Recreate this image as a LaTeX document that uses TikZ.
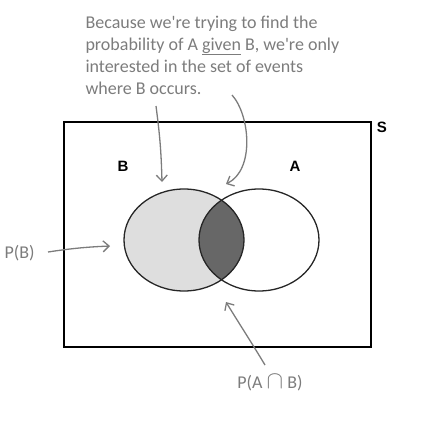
\documentclass[tikz,border=0pt]{standalone}
\usepackage{fontspec}
\setsansfont{Liberation Sans}
\newfontfamily\handfont{Carlito}
\usetikzlibrary{shapes.geometric, arrows.meta}
\definecolor{pen}{HTML}{7C7C7C}
\definecolor{setgray}{HTML}{DEDEDE}
\definecolor{bothgray}{HTML}{676767}

\begin{document}
\begin{tikzpicture}[x=1pt, y=-1pt,
    hand/.style={text=pen, font=\handfont\fontsize{18}{22}\selectfont},
    setname/.style={font=\sffamily\bfseries\fontsize{15}{15}\selectfont},
    note arrow/.style={draw=pen, line width=1.3pt, -{Straight Barb[length=6pt, width=11pt]}},
    eventset/.style={ellipse, inner sep=0pt, minimum width=120pt, minimum height=102pt}]
    \useasboundingbox (0,0) rectangle (432,423);

    \node[draw, line width=1.6pt, minimum width=307pt, minimum height=225pt, inner sep=0pt] (space) at (217.5,234.5) {};
    \node[setname] (s) at (382,127) {S};
    \node[setname] (b) at (123,166) {B};
    \node[setname] (a) at (295,166) {A};

    \node[eventset] (setB) at (184,240) {};
    \node[eventset] (setA) at (259,240) {};
    \fill[setgray] (184,240) ellipse [x radius=60pt, y radius=51pt];
    \begin{scope}
        \clip (184,240) ellipse [x radius=60pt, y radius=51pt];
        \fill[bothgray] (259,240) ellipse [x radius=60pt, y radius=51pt];
    \end{scope}
    \draw[line width=1.3pt, black!85] (184,240) ellipse [x radius=60pt, y radius=51pt];
    \draw[line width=1.3pt, black!85] (259,240) ellipse [x radius=60pt, y radius=51pt];

    \node[hand, align=left, anchor=north west] (note) at (82,12)
        {Because we're trying to find the\\
         probability of A \underline{given} B, we're only\\
         interested in the set of events\\
         where B occurs.};
    \node[hand, anchor=west] (pb) at (1,253) {P(B)};
    \node[hand] (pab) at (270,383) {P(A {\fontsize{24}{24}\selectfont$\cap$} B)};

    % arrow ends
    \coordinate (fromL) at (156,106);
    \coordinate (fromR) at (232,95);
    \coordinate (fromPB) at (48,252);
    \coordinate (fromPAB) at (265,365);
    \coordinate (toL) at (162,182);
    \coordinate (toR) at (226,184);
    \coordinate (toPB) at (110,246);
    \coordinate (toPAB) at (226,302);

    \path[note arrow]
    (fromL) to[bend left=3] (toL);
    \path[note arrow]
    (fromR) .. controls (250,115) and (255,170) .. (toR);
    \path[note arrow]
    (fromPB) to[bend left=3] (toPB);
    \path[note arrow]
    (fromPAB) .. controls (250,340) and (240,325) .. (toPAB);
\end{tikzpicture}
\end{document}
